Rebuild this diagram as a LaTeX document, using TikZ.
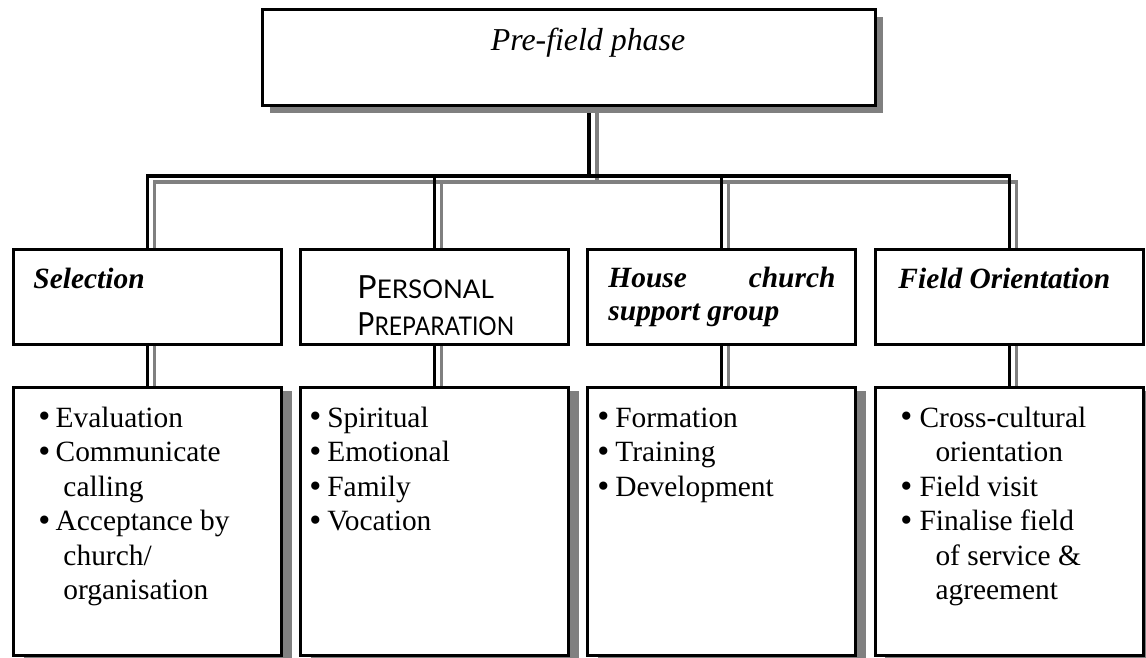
\documentclass[tikz,border=0pt]{standalone}
\usepackage{fontspec}
\setmainfont{Liberation Serif}
\newfontfamily\ppfont{Lato}
\usetikzlibrary{shadows,calc}
\pgfdeclarelayer{background}
\pgfsetlayers{background,main}
\definecolor{shadowgray}{RGB}{128,128,128}
\newcommand\bul[1]{\makebox[#1][l]{\raisebox{-0.4pt}{\fontsize{14}{14}\selectfont\textbullet}}}
\newcommand\fsc[2]{{\fontsize{13}{15}\selectfont #1}{\fontsize{10.5}{15}\selectfont #2}}
\begin{document}
\begin{tikzpicture}[x=0.408pt,y=-0.408pt,
  boxline/.style={draw=black, line width=1.22pt, fill=white, inner sep=0pt, rectangle},
  topbox/.style={boxline, line width=1.4pt, minimum width={613*0.408pt}, minimum height={96*0.408pt},
    drop shadow={shadow xshift=2.9pt, shadow yshift=-2.9pt, fill=shadowgray, opacity=1}},
  midbox/.style={boxline, minimum width={268*0.408pt}, minimum height={95*0.408pt}},
  lowbox/.style={boxline, minimum width={268*0.408pt}, minimum height={267.5*0.408pt},
    drop shadow={shadow xshift=4.2pt, shadow yshift=-1.4pt, fill=shadowgray, opacity=1}},
  conn/.style={draw=black, line width=1.3pt},
  connshadow/.style={draw=shadowgray, line width=1.25pt},
  txt/.style={inner sep=0pt, anchor=base west, font=\fontsize{12}{14.1}\selectfont},
  head/.style={inner sep=0pt, anchor=base west, font=\fontsize{12}{14}\selectfont\bfseries\itshape},
]
\useasboundingbox (0,0) rectangle (1146,657);

% boxes
\node[topbox] (top) at (569,57.5) {};
\node[midbox] (m1) at (147.5,297) {};
\node[midbox] (m2) at (434.7,297) {};
\node[midbox] (m3) at (721.9,297) {};
\node[midbox] (m4) at (1009.1,297) {};
\node[lowbox] (b1) at (147.5,521.25) {};
\node[lowbox] (b2) at (434.7,521.25) {};
\node[lowbox] (b3) at (721.9,521.25) {};
\node[lowbox] (b4) at (1009.1,521.25) {};

% connectors
\coordinate (bus) at (0,176);
\coordinate (gbus) at (0,182);
\coordinate (tv) at (589,0);
\begin{pgfonlayer}{background}
  \draw[connshadow] ($(tv |- top.south)+(8,0)$) -- ($(tv |- gbus)+(8,0)$);
  \draw[connshadow] ($(m1.north)+(7,0)$) -- ($(m1.north |- gbus)+(7,0)$)
        -- ($(m4.north |- gbus)+(7,0)$) -- ($(m4.north)+(7,0)$);
  \foreach \i in {2,3} {
    \draw[connshadow] ($(m\i.north |- gbus)+(7,0)$) -- ($(m\i.north)+(7,0)$);
  }
  \foreach \i in {1,...,4} {
    \draw[connshadow] ($(m\i.south)+(7,0)$) -- ($(b\i.north)+(7,0)$);
  }
  \draw[conn] (tv |- top.south) -- (tv |- bus);
  \draw[conn] (m1.north) -- (m1.north |- bus) -- (m4.north |- bus) -- (m4.north);
  \foreach \i in {2,3} {
    \draw[conn] (m\i.north |- bus) -- (m\i.north);
  }
  \foreach \i in {1,...,4} {
    \draw[conn] (m\i.south) -- (b\i.north);
  }
\end{pgfonlayer}

% texts
\node[inner sep=0pt, anchor=base, font=\fontsize{13}{15}\selectfont\itshape] (title) at (588,50) {Pre-field phase};
\node[head] (h1) at (33,288) {Selection};
\node[inner sep=0pt, anchor=base west, font=\fontsize{12}{15.1}\selectfont] (h2) at (357,298)
  {\ppfont\begin{tabular}[t]{@{}l@{}}\scalebox{1.01}[1]{\fsc{P}{ERSONAL}}\\\scalebox{0.89}[1]{\fsc{P}{REPARATION}}\end{tabular}};
\node[inner sep=0pt, anchor=base west] (h3) at (608,287)
  {\parbox[t]{92.6pt}{\fontsize{12}{13.5}\selectfont\bfseries\itshape\hyphenpenalty=10000 \tolerance=10000 House church support group}};
\node[head] (h4) at (898,288) {Field Orientation};

\node[txt] (l1) at (38,427) {\begin{tabular}[t]{@{}l@{}}
\bul{7pt}Evaluation\\
\bul{7pt}Communicate\\
\hspace*{10.2pt}calling\\
\bul{7pt}Acceptance by\\
\hspace*{10.2pt}church/\\
\hspace*{10.2pt}organisation
\end{tabular}};
\node[txt] (l2) at (309,427) {\begin{tabular}[t]{@{}l@{}}
\bul{7.3pt}Spiritual\\
\bul{7.3pt}Emotional\\
\bul{7.3pt}Family\\
\bul{7.3pt}Vocation
\end{tabular}};
\node[txt] (l3) at (597,427) {\begin{tabular}[t]{@{}l@{}}
\bul{7.3pt}Formation\\
\bul{7.3pt}Training\\
\bul{7.3pt}Development
\end{tabular}};
\node[txt] (l4) at (900,427) {\begin{tabular}[t]{@{}l@{}}
\bul{7.8pt}Cross-cultural\\
\hspace*{14.3pt}orientation\\
\bul{7.8pt}Field visit\\
\bul{7.8pt}Finalise field\\
\hspace*{14.3pt}of service \&\\
\hspace*{14.3pt}agreement
\end{tabular}};
\end{tikzpicture}
\end{document}
